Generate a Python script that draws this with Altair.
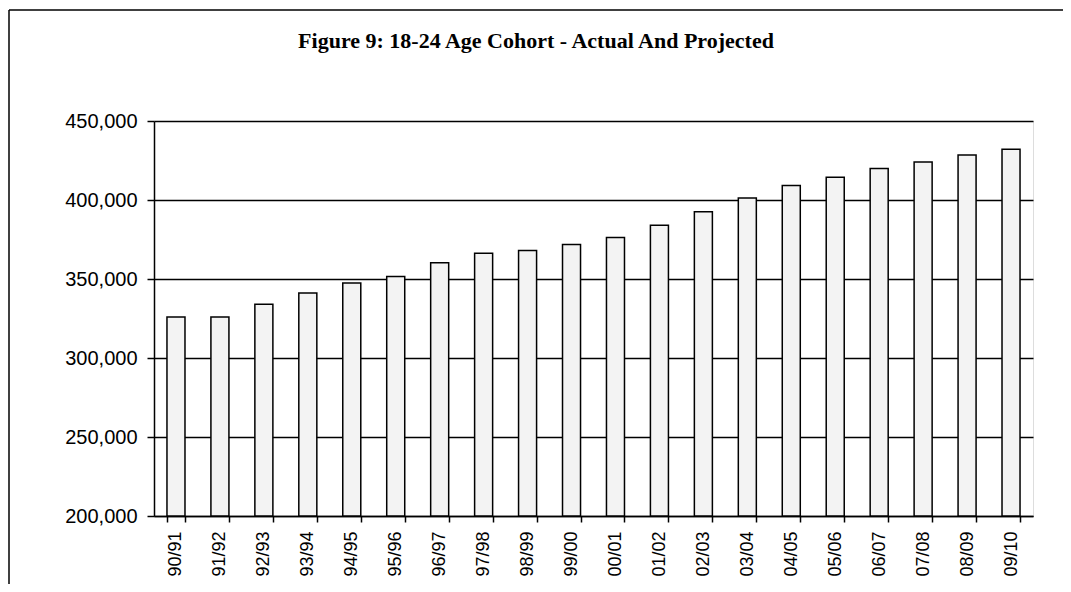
import altair as alt
import pandas as pd

title_text = ["Figure 9: 18-24 Age Cohort - Actual And Projected"]
years = ["90/91", "91/92", "92/93", "93/94", "94/95", "95/96", "96/97", "97/98",
         "98/99", "99/00", "00/01", "01/02", "02/03", "03/04", "04/05", "05/06",
         "06/07", "07/08", "08/09", "09/10"]
cohort = [326000, 326000, 334000, 341200, 347500, 351600, 360300, 366300,
          368000, 371800, 376200, 384000, 392500, 401300, 409100, 414400,
          419900, 424100, 428500, 432100]
y_ticks = [200000, 250000, 300000, 350000, 400000, 450000]

df = pd.DataFrame({"year": years, "cohort": cohort})
one = pd.DataFrame({"title": title_text})

bars = alt.Chart(df).mark_bar(fill="#f3f3f3", stroke="black", strokeWidth=1.5).encode(
    x=alt.X("year:N", sort=None, title=None,
            scale=alt.Scale(paddingInner=0.59, paddingOuter=0.295),
            axis=alt.Axis(labelAngle=270, labelFontSize=18, labelPadding=9,
                          tickSize=6, tickBand="extent", grid=False,
                          domainColor="black", domainWidth=1.5, tickColor="black",
                          tickWidth=1.5, labelColor="black", labelFont="Liberation Sans")),
    y=alt.Y("cohort:Q", title=None,
            scale=alt.Scale(domain=[200000, 450000], zero=False, nice=False),
            axis=alt.Axis(values=y_ticks, format=",.0f", labelFontSize=20, labelPadding=10,
                          tickSize=7, tickColor="black", tickWidth=1.5,
                          domainColor="black", domainWidth=1.5,
                          grid=True, gridColor="black", gridWidth=1.3, gridOpacity=1,
                          labelColor="black", labelFont="Liberation Sans")),
    y2=alt.datum(200000),
)

frame_left = alt.Chart(one).mark_rule(color="black", strokeWidth=1.5).encode(
    x=alt.value(-145), y=alt.value(-111), y2=alt.value(480))
frame_top = alt.Chart(one).mark_rule(color="black", strokeWidth=1.5).encode(
    x=alt.value(-145), x2=alt.value(1000), y=alt.value(-111))

title = alt.Chart(one).mark_text(
    font="Liberation Serif", fontSize=22, fontWeight="bold", color="black",
    align="center", baseline="alphabetic"
).encode(text="title:N", x=alt.value(382), y=alt.value(-73))

chart = alt.layer(frame_left, frame_top, title, bars).properties(
    width=879, height=395,
    padding={"left": 146, "top": 113, "right": 30, "bottom": 68},
    autosize=alt.AutoSizeParams(type="none"),
).configure_view(stroke="black", strokeWidth=1.5).configure(background="white")

chart.save("out.html", embed_options={"renderer": "svg", "actions": False})
